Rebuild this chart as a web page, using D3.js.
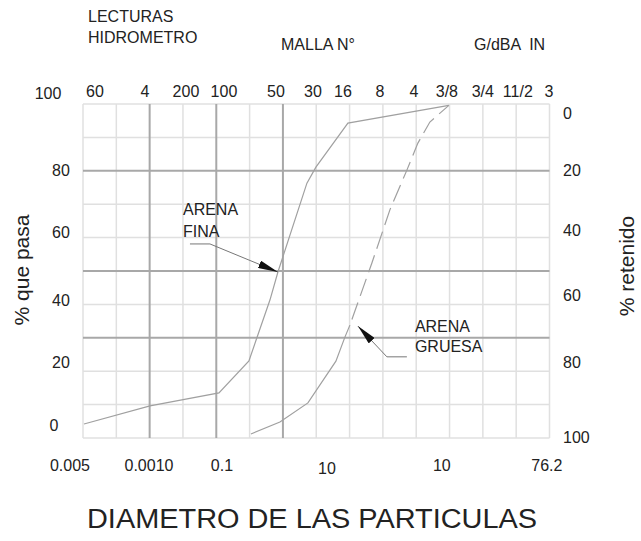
<!DOCTYPE html>
<html><head><meta charset="utf-8">
<script src="https://cdn.jsdelivr.net/npm/d3@7"></script>
<style>
html,body{margin:0;padding:0;background:#fff;}
svg text{font-family:"Liberation Sans",Arial,sans-serif;fill:#222;}
</style></head>
<body><svg id="c" width="641" height="541"></svg>
<script>
// ---- data (grid columns 0..14 on x, percent passing on y) ----
const topTickLabels = ["60","4","200","100","50","30","16","8","4","3/8","3/4","11/2","3"];
const topTickCols   = [0.36,1.86,3.09,4.23,5.79,6.9,7.8,8.91,9.93,10.92,12,13.05,13.98];
const bottomTickLabels = ["0.005","0.0010","0.1","10","10","76.2"];
const bottomTickCols   = [-0.39,1.98,4.17,7.32,10.77,13.92];
const leftTicks  = [100,80,60,40,20,0];
const rightTicks = [0,20,40,60,80,100];
const thickCols = [2,4,6];
const thickPct  = [80,50,30];
// Arena fina curve [col, % que pasa]
const arenaFina = [[0.03,4.2],[2.01,9.6],[4.08,13.5],[4.98,23.1],[5.61,41.3],[5.85,49.7],[6.72,76.3],[6.99,81.1],[7.95,94.3],[10.98,99.6]];
// Arena gruesa curve: solid lower part and dashed upper part
const arenaGruesaSolid  = [[5.04,1.2],[5.91,4.8],[6.75,10.5],[7.59,23],[7.86,30.2],[8.01,33.8]];
const arenaGruesaDashed = [[8.01,33.8],[8.67,52.4],[9.21,68.3],[9.72,80.2],[10.05,88.3],[10.41,94.6],[10.98,99.6]];
// annotation leaders
const finaLeader    = [[3.21,58.1],[3.81,58.1],[5.85,49.7]];
const gruesaLeader  = [[9.72,24.3],[9.12,24.3],[8.25,33.5]];

const svg = d3.select("#c");
const x = d3.scaleLinear().domain([0,14]).range([83,549.5]);
const y = d3.scaleLinear().domain([0,100]).range([438,104]);
const yr = d3.scaleLinear().domain([100,0]).range([438,104]);

// defs
svg.append("defs").append("marker").attr("id","arr")
  .attr("viewBox","0 0 20 8").attr("refX",20).attr("refY",4)
  .attr("markerWidth",20).attr("markerHeight",8).attr("markerUnits","userSpaceOnUse")
  .attr("orient","auto")
  .append("path").attr("d","M0,0 L20,4 L0,8 Z").attr("fill","#111");

// grid
const g = svg.append("g");
g.selectAll(".vl").data(d3.range(0,15).filter(k=>!thickCols.includes(k))).join("line")
  .attr("x1",d=>x(d)).attr("x2",d=>x(d)).attr("y1",y(100)).attr("y2",y(0))
  .attr("stroke","#e0e0e0").attr("stroke-width",1.5);
g.selectAll(".hl").data(d3.range(0,101,10).filter(k=>!thickPct.includes(k))).join("line")
  .attr("y1",d=>y(d)).attr("y2",d=>y(d)).attr("x1",x(0)).attr("x2",x(14))
  .attr("stroke","#e0e0e0").attr("stroke-width",1.5);
g.selectAll(".vt").data(thickCols).join("line")
  .attr("x1",d=>x(d)).attr("x2",d=>x(d)).attr("y1",y(100)).attr("y2",y(0))
  .attr("stroke","#a8a8a8").attr("stroke-width",2);
g.selectAll(".ht").data(thickPct).join("line")
  .attr("y1",d=>y(d)).attr("y2",d=>y(d)).attr("x1",x(0)).attr("x2",x(14))
  .attr("stroke","#a8a8a8").attr("stroke-width",2);

// curves
const line = d3.line().x(d=>x(d[0])).y(d=>y(d[1]));
svg.append("path").attr("d",line(arenaFina)).attr("fill","none").attr("stroke","#a0a0a0").attr("stroke-width",1.2);
svg.append("path").attr("d",line(arenaGruesaSolid)).attr("fill","none").attr("stroke","#a0a0a0").attr("stroke-width",1.2);
svg.append("path").attr("d",line(arenaGruesaDashed)).attr("fill","none").attr("stroke","#a0a0a0").attr("stroke-width",1.2)
  .attr("stroke-dasharray","18,7").attr("stroke-dashoffset",-6);

// leaders
svg.append("path").attr("d",line(finaLeader)).attr("fill","none").attr("stroke","#777").attr("stroke-width",1).attr("marker-end","url(#arr)");
svg.append("path").attr("d",line(gruesaLeader)).attr("fill","none").attr("stroke","#777").attr("stroke-width",1).attr("marker-end","url(#arr)");

// tick labels
const fs = 16;
svg.selectAll(".tt").data(topTickLabels).join("text")
  .attr("x",(d,i)=>x(topTickCols[i])).attr("y",97).attr("text-anchor","middle")
  .attr("font-size",fs).text(d=>d);
svg.selectAll(".bt").data(bottomTickLabels).join("text")
  .attr("x",(d,i)=>x(bottomTickCols[i])).attr("y",(d,i)=>i===3?474:471).attr("text-anchor","middle")
  .attr("font-size",fs).text(d=>d);
const leftNudge = {100:-11,80:-1,60:-6,40:-4,20:-9,0:-13};
const leftX = {100:48,80:61,60:61,40:61,20:61,0:54};
svg.selectAll(".lt").data(leftTicks).join("text")
  .attr("x",d=>leftX[d]).attr("y",d=>y(d)+leftNudge[d]+6).attr("text-anchor","middle")
  .attr("font-size",fs).text(d=>d);
const rightNudge = {0:9,20:-1,40:-8,60:-9,80:-9,100:-1};
svg.selectAll(".rt").data(rightTicks).join("text")
  .attr("x",563).attr("y",d=>yr(d)+rightNudge[d]+6).attr("text-anchor","start")
  .attr("font-size",fs).text(d=>d);

// headers
const hdr = [["LECTURAS",88,22],["HIDROMETRO",88,43],["MALLA N°",281,50],["G/dBA  IN",474,50]];
svg.selectAll(".hd").data(hdr).join("text")
  .attr("x",d=>d[1]).attr("y",d=>d[2]).attr("font-size",fs)
  .style("white-space","pre").text(d=>d[0]);

// annotations text
const ann = [["ARENA",3.0,66.8],["FINA",3.0,60.2],["ARENA",9.96,31.7],["GRUESA",9.96,25.7]];
svg.selectAll(".an").data(ann).join("text")
  .attr("x",d=>x(d[1])).attr("y",d=>y(d[2])).attr("font-size",fs).text(d=>d[0]);

// axis titles
svg.append("text").attr("transform","translate(29,270) rotate(-90)").attr("text-anchor","middle")
  .attr("font-size",21).text("% que pasa");
svg.append("text").attr("transform","translate(634,266) rotate(-90)").attr("text-anchor","middle")
  .attr("font-size",21).text("% retenido");
svg.append("text").attr("x",87).attr("y",528)
  .attr("font-size",27).attr("textLength",450).attr("lengthAdjust","spacingAndGlyphs")
  .text("DIAMETRO DE LAS PARTICULAS");
</script></body></html>
